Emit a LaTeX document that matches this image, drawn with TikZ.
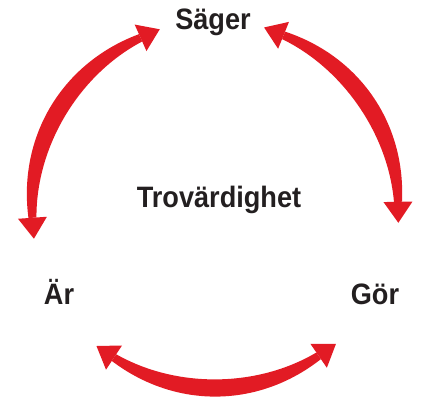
\documentclass[tikz,border=0pt]{standalone}
\usepackage{fontspec}
\usepackage{tikz}
\usetikzlibrary{calc}
\newfontfamily\labelfont[FakeStretch=0.92]{Liberation Sans}
\definecolor{arrowRed}{RGB}{226,27,36}
\definecolor{inkText}{RGB}{35,31,32}
\newcommand{\arcrad}{183}
\newcommand{\archw}{4}
% tapered double arc arrow from angle #1 to angle #2
\newcommand{\dblarc}[2]{%
  \fill[arrowRed] plot[domain=#1:#2,samples=50]
      (\x:{\arcrad+\archw*(1+1.15*sin(180*(\x-#1)/(#2-#1)))})
    -- plot[domain=#2:#1,samples=50]
      (\x:{\arcrad-\archw*(1+1.15*sin(180*(\x-#1)/(#2-#1)))}) -- cycle;
  \fill[arrowRed] ($(#1:\arcrad)+(#1:14.5)$) -- ($(#1:\arcrad)+(#1-90:21)$)
    -- ($(#1:\arcrad)+(#1:-14.5)$) -- cycle;
  \fill[arrowRed] ($(#2:\arcrad)+(#2:14.5)$) -- ($(#2:\arcrad)+(#2+90:21)$)
    -- ($(#2:\arcrad)+(#2:-14.5)$) -- cycle;
}

\begin{document}
\begin{tikzpicture}[x=1pt,y=1pt,
    word/.style={color=inkText,font=\labelfont\bfseries\fontsize{29.5}{30}\selectfont,anchor=base,inner sep=0pt}]
  \useasboundingbox (-215,-194) rectangle (213,205);
  % labels
  \node[word] (sager) at (-2,175) {Säger};
  \node[word] (trov) at (4,-2) {Trovärdighet};
  \node[word] (ar) at (-156,-99) {Är};
  \node[word] (gor) at (160,-99) {Gör};
  % arrows
  \dblarc{114}{184}
  \dblarc{1}{68}
  \dblarc{236.5}{304.5}
\end{tikzpicture}
\end{document}
